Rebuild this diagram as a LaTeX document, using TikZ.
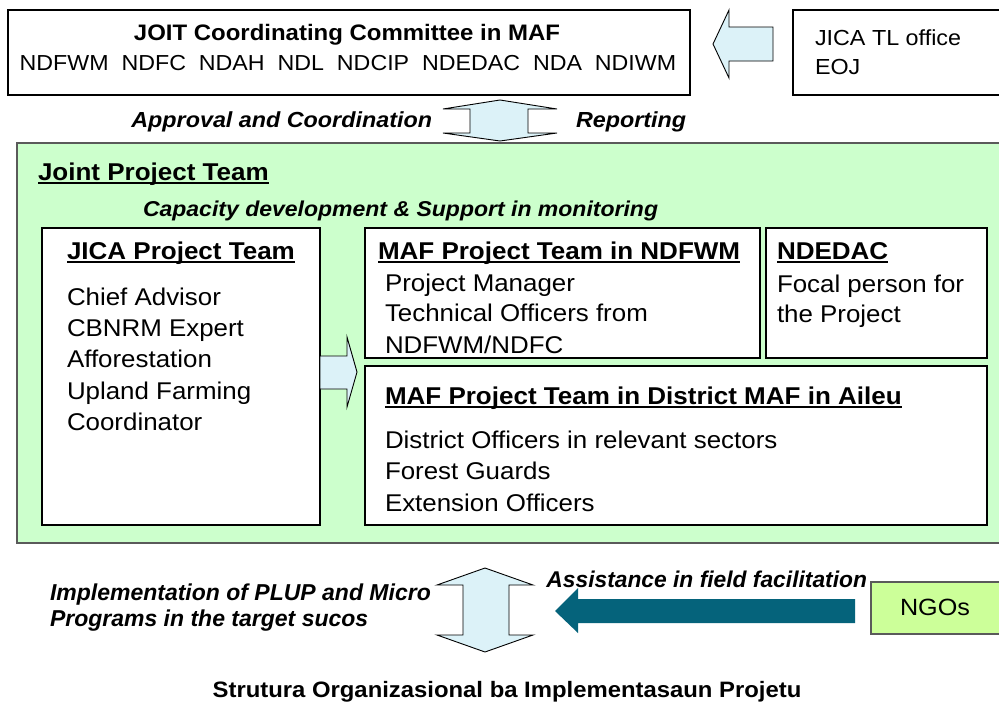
\documentclass[tikz,border=0pt]{standalone}
\usepackage{fontspec}
\setmainfont[FakeStretch=1.07]{Liberation Sans}
\newfontfamily\plainfam{Liberation Sans}
\definecolor{arrowblue}{RGB}{220,242,248}
\definecolor{teamgreen}{RGB}{204,255,204}
\definecolor{ngogreen}{RGB}{204,255,153}
\definecolor{darkteal}{RGB}{5,99,123}
\definecolor{frame}{RGB}{90,90,90}
\newcommand\fsz[1]{\fontsize{#1}{#1}\selectfont}
\newsavebox\ulbox
\newcommand\ulin[1]{\sbox\ulbox{#1}\rlap{\rule[-3.6pt]{\wd\ulbox}{1.7pt}}\usebox\ulbox}
\begin{document}
\begin{tikzpicture}[x=1pt,y=-1pt,
  box/.style={draw=black, line width=1.1pt, fill=white, anchor=north west, inner sep=0pt, outer sep=0pt},
  txt/.style={inner sep=0pt, outer sep=0pt, anchor=base west, text=black},
  body/.style={txt, font=\fsz{24.2}},
  head/.style={txt, font=\bfseries\fsz{24.3}},
  lab/.style={txt, font=\bfseries\itshape\fsz{21.5}},
  condlab/.style={txt, font=\plainfam\bfseries\itshape\fsz{23}},
  blockarrow/.style={draw=black, line width=0.9pt, fill=arrowblue, line join=miter},
]
\clip (0,0) rectangle (999,702);
\fill[white] (0,0) rectangle (999,702);

% top boxes
\node[box, minimum width=682pt, minimum height=85pt] (joit) at (8,10) {};
\node[box, minimum width=220pt, minimum height=85pt] (jicatl) at (793,10) {};
\node[txt, font=\bfseries\fsz{22.4}, anchor=base] (joitT) at (347,40) {JOIT Coordinating Committee in MAF};
\node[txt, font=\fsz{21.7}, anchor=base] (joitL) at (348,70) {NDFWM\ \ NDFC\ \ NDAH\ \ NDL\ \ NDCIP\ \ NDEDAC\ \ NDA\ \ NDIWM};
\node[body, font=\fsz{21.8}] (jtlT) at (815,45) {JICA TL office};
\node[body, font=\fsz{21.8}] (eoj) at (815,74) {EOJ};

% arrows top
\draw[blockarrow] (713,44) -- (729,10) -- (729,27) -- (773,27) -- (773,61) -- (729,61) -- (729,78) -- cycle;
\draw[blockarrow] (500,100) -- (557,109) -- (528,109) -- (528,133) -- (557,133) -- (500,141) -- (443,133) -- (470,133) -- (470,109) -- (443,109) -- cycle;
\node[lab, font=\bfseries\itshape\fsz{21.8}, anchor=base east] (appr) at (432,127) {Approval and Coordination};
\node[lab, font=\bfseries\itshape\fsz{21.8}] (rep) at (576,127) {Reporting};

% joint project team
\node[box, draw=frame, line width=1.5pt, fill=teamgreen, minimum width=1000pt, minimum height=400pt] (jpt) at (17,143) {};
\node[head] (jptT) at (38,180) {\ulin{Joint Project Team}};
\node[lab] (cap) at (143,216) {Capacity development \& Support in monitoring};

\node[box, minimum width=278pt, minimum height=297pt] (jica) at (42,228) {};
\node[box, minimum width=395pt, minimum height=130pt] (mafn) at (365,228) {};
\node[box, minimum width=221pt, minimum height=130pt] (ndedac) at (766,228) {};
\node[box, minimum width=622pt, minimum height=159pt] (dist) at (365,366) {};

\node[head] (jicaT) at (67,259) {\ulin{JICA Project Team}};
\node[body] (j1) at (67,305.5) {Chief Advisor};
\node[body] (j2) at (67,336.5) {CBNRM Expert};
\node[body] (j3) at (67,367.5) {Afforestation};
\node[body] (j4) at (67,399.5) {Upland Farming};
\node[body] (j5) at (67,430.5) {Coordinator};

\node[head] (mafnT) at (378,259) {\ulin{MAF Project Team in NDFWM}};
\node[body] (m1) at (385,291.5) {Project Manager};
\node[body] (m2) at (385,321.5) {Technical Officers from};
\node[body] (m3) at (385,353.5) {NDFWM/NDFC};

\node[head] (ndT) at (777,259) {\ulin{NDEDAC}};
\node[body] (n1) at (777,292.5) {Focal person for};
\node[body] (n2) at (777,322.5) {the Project};

\node[head] (distT) at (385,404.5) {\ulin{MAF Project Team in District MAF in Aileu}};
\node[body] (d1) at (385,448.5) {District Officers in relevant sectors};
\node[body] (d2) at (385,479.5) {Forest Guards};
\node[body] (d3) at (385,511.5) {Extension Officers};

\draw[blockarrow] (320,356) -- (347,356) -- (347,337) -- (357,372) -- (347,407) -- (347,389) -- (320,389) -- cycle;

% bottom
\draw[blockarrow] (485,568) -- (533,585) -- (509,585) -- (509,635) -- (533,635) -- (485,652) -- (437,635) -- (463,635) -- (463,585) -- (437,585) -- cycle;
\fill[darkteal] (555,611) -- (578,588) -- (578,599) -- (855,599) -- (855,623) -- (578,623) -- (578,633) -- cycle;
\node[box, draw=frame, fill=ngogreen, minimum width=150pt, minimum height=52pt] (ngo) at (871,582) {};
\node[body, font=\fsz{23.5}, anchor=center] (ngoT) at (935,607) {NGOs};
\node[condlab] (impl1) at (50,600) {Implementation of PLUP and Micro};
\node[condlab] (impl2) at (50,626) {Programs in the target sucos};
\node[condlab, font=\plainfam\bfseries\itshape\fsz{22.8}, anchor=base east] (assist) at (867,587) {Assistance in field facilitation};

\node[txt, font=\bfseries\fsz{22.3}, anchor=base] (title) at (507,697) {Strutura Organizasional ba Implementasaun Projetu};
\end{tikzpicture}
\end{document}
